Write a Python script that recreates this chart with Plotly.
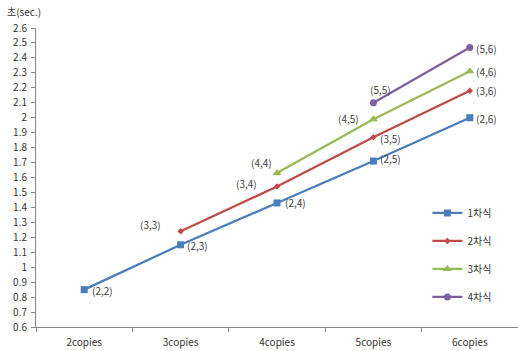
import plotly.graph_objects as go

# Category axis and measured times (seconds)
categories = ["2copies", "3copies", "4copies", "5copies", "6copies"]
series_names = ["1차식", "2차식", "3차식", "4차식"]
series_x = [
    ["2copies", "3copies", "4copies", "5copies", "6copies"],
    ["3copies", "4copies", "5copies", "6copies"],
    ["4copies", "5copies", "6copies"],
    ["5copies", "6copies"],
]
series_y = [
    [0.85, 1.15, 1.43, 1.71, 2.00],
    [1.24, 1.54, 1.87, 2.18],
    [1.63, 1.99, 2.31],
    [2.10, 2.47],
]
point_labels = [
    ["(2,2)", "(2,3)", "(2,4)", "(2,5)", "(2,6)"],
    ["(3,3)", "(3,4)", "(3,5)", "(3,6)"],
    ["(4,4)", "(4,5)", "(4,6)"],
    ["(5,5)", "(5,6)"],
]
y_ticks = [round(0.6 + 0.1 * i, 1) for i in range(21)]

# Styling
colors = ["#4A7EBB", "#BE4B48", "#98B954", "#7D60A0"]
symbols = ["square", "diamond", "triangle-up", "circle"]
marker_sizes = [7, 5, 8, 7]
label_offsets = [
    [(18, 1), (17, 1), (18, 0), (17, -3), (17, 1)],
    [(-30, -7), (-31, -3), (17, 1), (17, 0)],
    [(-16, -11), (-25, -1), (17, 0)],
    [(7, -13), (17, 1)],
]
FONT = "Noto Sans CJK KR"
AXIS_COLOR = "#868686"

fig = go.Figure()
for name, xs, ys, c, s, ms in zip(series_names, series_x, series_y, colors, symbols, marker_sizes):
    fig.add_trace(go.Scatter(
        x=xs, y=ys, name=name, mode="lines+markers", legendgroup=name,
        line=dict(color=c, width=2.25),
        marker=dict(symbol=s, size=ms, color=c),
        cliponaxis=False,
    ))

annotations = []
for xs, ys, labels, offs in zip(series_x, series_y, point_labels, label_offsets):
    for x, y, t, (dx, dy) in zip(xs, ys, labels, offs):
        annotations.append(dict(
            x=x, y=y, xref="x", yref="y", text=t, showarrow=False,
            xshift=dx, yshift=-dy,
            font=dict(family=FONT, size=10, color="#404040"),
        ))
annotations.append(dict(
    x=0, y=1, xref="paper", yref="paper", xanchor="left", yanchor="middle",
    xshift=-31, yshift=17, text="초(sec.)", showarrow=False,
    font=dict(family=FONT, size=10, color="#333333"),
))

fig.update_layout(
    width=518, height=351,
    margin=dict(l=36, r=0, t=28, b=24),
    paper_bgcolor="white", plot_bgcolor="white",
    font=dict(family=FONT, size=10, color="#333333"),
    showlegend=True,
    legend=dict(
        x=0.812, y=0.43, xanchor="left", yanchor="top",
        font=dict(family=FONT, size=10, color="#333333"),
        tracegroupgap=9, bgcolor="rgba(0,0,0,0)",
    ),
    annotations=annotations,
    xaxis=dict(
        type="category", categoryorder="array", categoryarray=categories,
        range=[-0.5, 4.5], showgrid=False, zeroline=False,
        showline=True, linecolor=AXIS_COLOR, linewidth=1,
        ticks="outside", ticklen=4, tickcolor=AXIS_COLOR, tickson="boundaries",
        ticklabelstandoff=6,
        tickfont=dict(family=FONT, size=10, color="#333333"),
    ),
    yaxis=dict(
        range=[0.6, 2.6], tickvals=y_ticks, ticktext=[f"{v:g}" for v in y_ticks],
        showgrid=False, zeroline=False,
        showline=True, linecolor=AXIS_COLOR, linewidth=1,
        ticks="outside", ticklen=4, tickcolor=AXIS_COLOR,
        ticklabelstandoff=2,
        tickfont=dict(family=FONT, size=10, color="#333333"),
    ),
)

fig.write_html("out.html")
